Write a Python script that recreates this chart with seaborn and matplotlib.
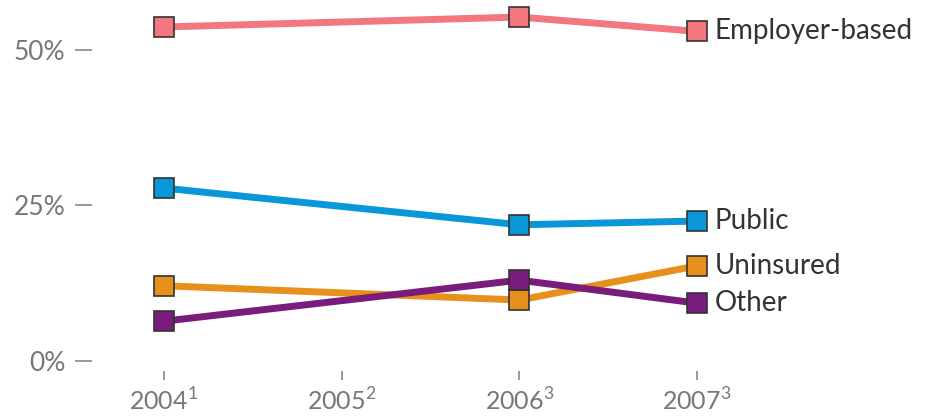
import pandas as pd
import matplotlib.pyplot as plt
import seaborn as sns

# Share of people by source of health coverage (%)
years = [2004, 2006, 2007]
employer = [53.7, 55.3, 53.0]
public = [27.8, 21.9, 22.5]
uninsured = [12.1, 9.8, 15.3]
other = [6.4, 13.0, 9.3]

series = ['Employer-based', 'Public', 'Uninsured', 'Other']
colors = ['#F4777F', '#0A97D9', '#E8901C', '#7A1C7B']
tick_years = [2004, 2005, 2006, 2007]
tick_labels = ['2004$^{\\mathregular{1}}$', '2005$^{\\mathregular{2}}$',
               '2006$^{\\mathregular{3}}$', '2007$^{\\mathregular{3}}$']

df = pd.DataFrame({
    'year': years * 4,
    'value': employer + public + uninsured + other,
    'series': [s for s in series for _ in years],
})

sns.set_style('white')
plt.rcParams['font.family'] = ['Lato', 'DejaVu Sans']
plt.rcParams['mathtext.fontset'] = 'custom'
plt.rcParams['mathtext.rm'] = 'Lato'

fig = plt.figure(figsize=(9.4, 4.19), dpi=100)
ax = fig.add_axes([92 / 940, 1 - 371 / 419, 1 - 92 / 940, 371 / 419])

sns.lineplot(data=df, x='year', y='value', hue='series', hue_order=series,
             palette=colors, marker='s', markersize=14, markeredgecolor='#333333',
             markeredgewidth=1.2, linewidth=5, legend=False, ax=ax)

# labels at the right end of each line
for name, vals in zip(series, [employer, public, uninsured, other]):
    ax.text(years[-1] + 0.1, vals[-1], name, va='center', ha='left',
            fontsize=20, color='#333333')

ax.set_xlim(2003.595, 2008.367)
ax.set_ylim(-1.61, 58.04)
ax.set_xticks(tick_years)
ax.set_xticklabels(tick_labels)
ax.set_yticks([0, 25, 50])
ax.set_yticklabels(['0%', '25%', '50%'])
ax.set_xlabel('')
ax.set_ylabel('')
ax.tick_params(axis='y', length=12, width=1.2, color='#888888', pad=7,
               labelsize=19, labelcolor='#777777', left=True)
ax.tick_params(axis='x', length=6.5, width=1.2, color='#888888', pad=5,
               labelsize=18, labelcolor='#777777', bottom=True, direction='out')
sns.despine(ax=ax, left=True, bottom=True)

fig.savefig('out.png', dpi=100)
